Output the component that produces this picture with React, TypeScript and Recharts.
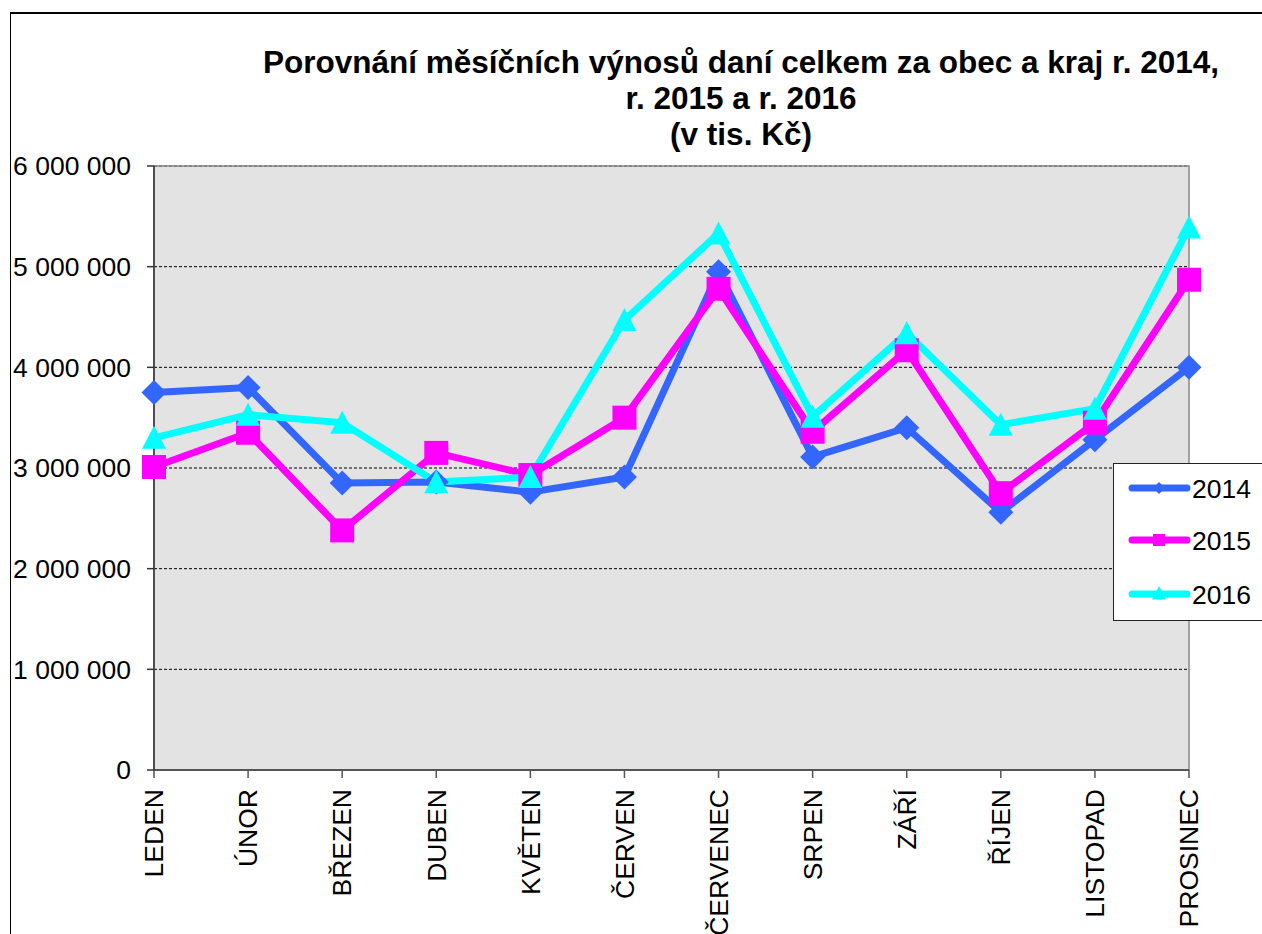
import React from 'react';
import { LineChart, Line, XAxis, YAxis, CartesianGrid, ReferenceArea, Legend } from 'recharts';

const months = ['LEDEN', 'ÚNOR', 'BŘEZEN', 'DUBEN', 'KVĚTEN', 'ČERVEN', 'ČERVENEC', 'SRPEN', 'ZÁŘÍ', 'ŘÍJEN', 'LISTOPAD', 'PROSINEC'];
const s2014 = [3750000, 3800000, 2850000, 2860000, 2760000, 2910000, 4950000, 3110000, 3400000, 2560000, 3280000, 4000000];
const s2015 = [3010000, 3350000, 2380000, 3150000, 2930000, 3500000, 4780000, 3360000, 4170000, 2750000, 3450000, 4870000];
const s2016 = [3300000, 3530000, 3450000, 2860000, 2910000, 4470000, 5330000, 3510000, 4340000, 3430000, 3590000, 5390000];
const yTicks = [0, 1000000, 2000000, 3000000, 4000000, 5000000, 6000000];
const seriesNames = ['2014', '2015', '2016'];
const titleLines = ['Porovnání měsíčních výnosů daní celkem za obec a kraj r. 2014,', 'r. 2015 a r. 2016', '(v tis. Kč)'];

const data = months.map((m, i) => ({ month: m, y2014: s2014[i], y2015: s2015[i], y2016: s2016[i] }));

const C14 = '#3366FF';
const C15 = '#FF00FF';
const C16 = '#00FFFF';
const FONT = '"Liberation Sans", Arial, sans-serif';

const fmt = (v: number) => String(v).replace(/\B(?=(\d{3})+(?!\d))/g, ' ');

const diamond = (cx: number, cy: number, r: number, c: string, key?: any) => (
  <polygon key={key} points={`${cx},${cy - r} ${cx + r},${cy} ${cx},${cy + r} ${cx - r},${cy}`} fill={c} />
);
const square = (cx: number, cy: number, h: number, c: string, key?: any) => (
  <rect key={key} x={cx - h} y={cy - h} width={h * 2} height={h * 2} fill={c} />
);
const triangle = (cx: number, cy: number, h: number, c: string, key?: any) => (
  <polygon key={key} points={`${cx},${cy - h} ${cx + h},${cy + h * 0.92} ${cx - h},${cy + h * 0.92}`} fill={c} />
);

const XTick = (props: any) => {
  const { x, payload } = props;
  return (
    <text
      x={x}
      y={789}
      transform={`rotate(-90 ${x} 789)`}
      textAnchor="end"
      dy="0.35em"
      fontSize={26.5}
      fontFamily={FONT}
      fill="#000"
    >
      {payload.value}
    </text>
  );
};

const LegendBox = () => {
  const rows = [
    { name: seriesNames[0], c: C14, m: 'd' },
    { name: seriesNames[1], c: C15, m: 's' },
    { name: seriesNames[2], c: C16, m: 't' },
  ];
  const ys = [25, 77, 131];
  return (
    <div
      style={{
        width: 149,
        height: 158,
        background: '#fff',
        borderTop: '1.5px solid #222',
        borderLeft: '1.5px solid #222',
        borderBottom: '1.5px solid #222',
        boxSizing: 'border-box',
      }}
    >
      <svg width={149} height={156} style={{ display: 'block', marginTop: -1.5, marginLeft: -1.5 }}>
        {rows.map((r, i) => (
          <g key={r.name}>
            <line x1={19} x2={74} y1={ys[i]} y2={ys[i]} stroke={r.c} strokeWidth={7} strokeLinecap="round" />
            {r.m === 'd' && diamond(46, ys[i], 6, r.c)}
            {r.m === 's' && square(46, ys[i], 6, r.c)}
            {r.m === 't' && triangle(46, ys[i] - 1, 7, r.c)}
            <text x={79} y={ys[i] + 9.5} fontSize={26.5} fontFamily={FONT} fill="#000">
              {r.name}
            </text>
          </g>
        ))}
      </svg>
    </div>
  );
};

export default function App() {
  return (
    <div style={{ position: 'absolute', left: 0, top: 0, width: 1262, height: 934, background: '#fff', overflow: 'hidden' }}>
      <div
        style={{
          position: 'absolute',
          left: 10,
          top: 12,
          width: 1262,
          height: 934,
          borderTop: '2px solid #000',
          borderLeft: '1.5px solid #000',
        }}
      />
      <div
        style={{
          position: 'absolute',
          left: 241,
          width: 1000,
          top: 44,
          textAlign: 'center',
          fontFamily: FONT,
          fontWeight: 'bold',
          fontSize: 31.5,
          lineHeight: '36px',
          color: '#000',
        }}
      >
        {titleLines.map((t) => (
          <div key={t} style={{ whiteSpace: 'nowrap' }}>{t}</div>
        ))}
      </div>
      <div style={{ position: 'absolute', left: 0, top: 0 }}>
        <LineChart width={1262} height={934} data={data} margin={{ top: 166, right: 73, bottom: 0, left: 10 }}>
          <CartesianGrid
            vertical={false}
            fill="#E3E3E3"
            stroke="#000"
            strokeDasharray="3 2"
            horizontalValues={yTicks}
          />
          <ReferenceArea x1="LEDEN" x2="PROSINEC" y1={0} y2={6000000} fill="none" stroke="#888" strokeWidth={1.5} fillOpacity={0} />
          <XAxis
            dataKey="month"
            interval={0}
            padding={{ left: 0, right: 0 }}
            height={164}
            tickSize={8}
            axisLine={{ stroke: '#555', strokeWidth: 2 }}
            tickLine={{ stroke: '#555', strokeWidth: 1.5 }}
            tick={<XTick />}
          />
          <YAxis
            width={144}
            domain={[0, 6000000]}
            ticks={yTicks}
            interval={0}
            tickFormatter={fmt}
            tickSize={7}
            tickMargin={16}
            axisLine={{ stroke: '#333', strokeWidth: 1.5 }}
            tickLine={{ stroke: '#333', strokeWidth: 1.5 }}
            tick={{ fontSize: 26.5, fontFamily: FONT, fill: '#000' }}
          />
          <Line
            dataKey="y2014"
            name={seriesNames[0]}
            stroke={C14}
            strokeWidth={7}
            strokeLinejoin="round"
            isAnimationActive={false}
            dot={(p: any) => diamond(p.cx, p.cy, 12.5, C14, p.index)}
            activeDot={false}
          />
          <Line
            dataKey="y2015"
            name={seriesNames[1]}
            stroke={C15}
            strokeWidth={7}
            strokeLinejoin="round"
            isAnimationActive={false}
            dot={(p: any) => square(p.cx, p.cy, 12, C15, p.index)}
            activeDot={false}
          />
          <Line
            dataKey="y2016"
            name={seriesNames[2]}
            stroke={C16}
            strokeWidth={7}
            strokeLinejoin="round"
            isAnimationActive={false}
            dot={(p: any) => triangle(p.cx, p.cy, 12, C16, p.index)}
            activeDot={false}
          />
          <Legend
            layout="vertical"
            align="center"
            verticalAlign="middle"
            content={<LegendBox />}
            wrapperStyle={{ left: 1113, top: 463, width: 149, height: 158, right: 'auto', bottom: 'auto' }}
          />
        </LineChart>
      </div>
    </div>
  );
}
